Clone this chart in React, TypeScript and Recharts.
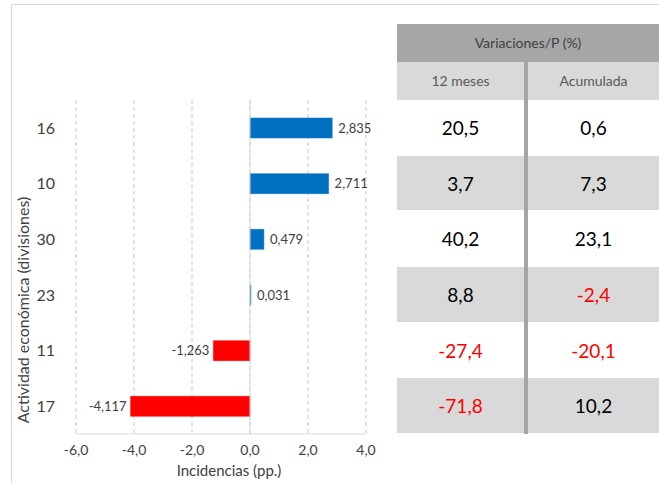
import React from 'react';
import { Bar, BarChart, CartesianGrid, Cell, LabelList, ReferenceLine, XAxis, YAxis } from 'recharts';

const divisions = ['16', '10', '30', '23', '11', '17'];
const incidencias = [2.835, 2.711, 0.479, 0.031, -1.263, -4.117];
const var12Meses = [20.5, 3.7, 40.2, 8.8, -27.4, -71.8];
const varAcumulada = [0.6, 7.3, 23.1, -2.4, -20.1, 10.2];
const xTicks = [-6, -4, -2, 0, 2, 4];

const FONT = "Lato, 'Open Sans', sans-serif";
const CHART_W = 396;
const CHART_H = 483;
const PLOT_TOP = 100;
const PLOT_BOTTOM = 434;
const BLUE = '#0070c0';
const RED = '#ff0000';

const data = divisions.map((d, i) => ({ division: d, value: incidencias[i] }));

const fmt = (n: number, digits: number) => n.toFixed(digits).replace('.', ',');

const BarValueLabel = (props: any) => {
  const { x, y, width, height, value } = props;
  const left = Math.min(x, x + width);
  const right = Math.max(x, x + width);
  const neg = value < 0;
  return (
    <text
      x={neg ? left - 4 : right + 6}
      y={y + height / 2}
      dy="0.35em"
      textAnchor={neg ? 'end' : 'start'}
      fill="#404040"
      fontSize={13}
      fontFamily={FONT}
    >
      {fmt(value, 3)}
    </text>
  );
};

const YTitle = () => (
  <text
    x={22}
    y={310}
    transform="rotate(-90 22 310)"
    textAnchor="middle"
    dominantBaseline="central"
    fill="#404040"
    fontSize={16}
    fontFamily={FONT}
  >
    Actividad económica (divisiones)
  </text>
);

const XTitle = () => (
  <text x={229} y={476} textAnchor="middle" fill="#404040" fontSize={15} fontFamily={FONT}>
    Incidencias (pp.)
  </text>
);

const VariacionesTable = () => {
  const rowH = (PLOT_BOTTOM - PLOT_TOP) / divisions.length;
  const left = 397;
  const sepX = 524;
  const sepW = 4;
  const cell = (v: number, x: number, w: number, top: number) => (
    <div
      style={{
        position: 'absolute',
        left: x,
        top,
        width: w,
        height: rowH,
        lineHeight: `${rowH}px`,
        textAlign: 'center',
        fontSize: 19,
        color: v < 0 ? RED : '#000',
      }}
    >
      {fmt(v, 1)}
    </div>
  );
  const subH = PLOT_TOP - 62;
  return (
    <div style={{ position: 'absolute', left: 0, top: 0, width: 659, height: 483, fontFamily: FONT }}>
      <div
        style={{
          position: 'absolute', left, top: 24, width: 659 - left, height: 38,
          background: '#a6a6a6', color: '#404040', fontSize: 14, lineHeight: '38px', textAlign: 'center',
        }}
      >
        Variaciones/P (%)
      </div>
      <div style={{ position: 'absolute', left, top: 62, width: 659 - left, height: subH, background: '#d9d9d9' }} />
      <div style={{ position: 'absolute', left, top: 62, width: sepX - left, height: subH, lineHeight: `${subH}px`, textAlign: 'center', fontSize: 14, color: '#595959' }}>
        12 meses
      </div>
      <div style={{ position: 'absolute', left: sepX + sepW, top: 62, width: 659 - sepX - sepW, height: subH, lineHeight: `${subH}px`, textAlign: 'center', fontSize: 14, color: '#595959' }}>
        Acumulada
      </div>
      {divisions.map((d, i) => {
        const top = PLOT_TOP + i * rowH;
        return (
          <React.Fragment key={d}>
            {i % 2 === 1 && (
              <div style={{ position: 'absolute', left, top, width: 659 - left, height: rowH - 1, background: '#d9d9d9' }} />
            )}
            {cell(var12Meses[i], left, sepX - left, top)}
            {cell(varAcumulada[i], sepX + sepW, 659 - sepX - sepW, top)}
          </React.Fragment>
        );
      })}
      <div style={{ position: 'absolute', left: sepX, top: 62, width: sepW, height: PLOT_BOTTOM - 62, background: '#a6a6a6' }} />
    </div>
  );
};

export default function App() {
  return (
    <div style={{ position: 'absolute', left: 0, top: 0, width: 659, height: 483, background: '#fff', overflow: 'hidden' }}>
      <div
        style={{
          position: 'absolute', left: 11, top: 4, width: 700, height: 600,
          borderLeft: '1px solid #d9d9d9', borderTop: '1px solid #d9d9d9',
        }}
      />
      <VariacionesTable />
      <div style={{ position: 'absolute', left: 0, top: 0 }}>
        <BarChart
          width={CHART_W}
          height={CHART_H}
          data={data}
          layout="vertical"
          margin={{ top: PLOT_TOP, right: 30, left: 0, bottom: 0 }}
          barSize={20}
        >
          <CartesianGrid horizontal={false} stroke="#c8c8c8" strokeDasharray="4 3" />
          <XAxis
            type="number"
            domain={[-6, 4]}
            ticks={xTicks}
            height={CHART_H - PLOT_BOTTOM}
            tickFormatter={(v: number) => fmt(v, 1)}
            axisLine={{ stroke: '#d9d9d9' }}
            tickLine={false}
            tickSize={0}
            tickMargin={11}
            tick={{ fill: '#404040', fontSize: 14, fontFamily: FONT }}
            label={<XTitle />}
          />
          <YAxis
            type="category"
            dataKey="division"
            width={76}
            axisLine={false}
            tickLine={false}
            tickSize={0}
            tickMargin={21}
            tick={{ fill: '#404040', fontSize: 16, fontFamily: FONT }}
            label={<YTitle />}
          />
          <ReferenceLine x={0} stroke="#d9d9d9" strokeWidth={1} />
          <Bar dataKey="value" isAnimationActive={false}>
            {data.map((d) => (
              <Cell key={d.division} fill={d.value < 0 ? RED : BLUE} stroke={d.value < 0 ? RED : BLUE} strokeWidth={0.5} />
            ))}
            <LabelList dataKey="value" content={<BarValueLabel />} />
          </Bar>
        </BarChart>
      </div>
    </div>
  );
}
